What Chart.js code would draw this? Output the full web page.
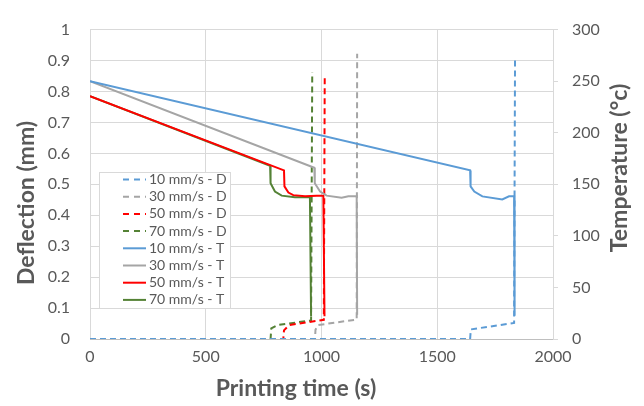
<!DOCTYPE html>
<html><head><meta charset="utf-8">
<script src="https://cdn.jsdelivr.net/npm/chart.js@4"></script>
<style>html,body{margin:0;padding:0;background:#fff}#wrap{width:644px;height:406px;position:relative}</style>
</head><body><div id="wrap"><canvas id="c" width="644" height="406"></canvas></div>
<script>
// ---- data (time in s, deflection in mm, temperature in °C) ----
const xTickValues = [0, 500, 1000, 1500, 2000];
const seriesLabels = ["10 mm/s - D","30 mm/s - D","50 mm/s - D","70 mm/s - D","10 mm/s - T","30 mm/s - T","50 mm/s - T","70 mm/s - T"];

const time10D = [0, 1642, 1645, 1832, 1836];
const defl10D = [0, 0, 0.031, 0.052, 0.91];
const time30D = [0, 972, 974, 985, 1152, 1154];
const defl30D = [0, 0, 0.03, 0.045, 0.063, 0.922];
const time50D = [0, 835, 838, 860, 1010, 1014];
const defl50D = [0, 0, 0.028, 0.045, 0.062, 0.854];
const time70D = [0, 780, 783, 810, 955, 960];
const defl70D = [0, 0, 0.034, 0.045, 0.06, 0.862];

const time10T = [0, 1642, 1644, 1660, 1695, 1781, 1810, 1832, 1834];
const temp10T = [250, 163.5, 148, 143, 138.3, 135.3, 138.3, 138.3, 22.5];
const time30T = [0, 969, 971, 994, 1022, 1087, 1116, 1152, 1154];
const temp30T = [250, 166, 151, 143, 139, 137, 138.3, 138.3, 23.5];
const time50T = [0, 838, 840, 857, 878, 929, 979, 1008, 1013];
const temp50T = [235.5, 163.5, 148, 142, 139.5, 138.3, 139, 139, 22];
const time70T = [0, 778, 780, 799, 828, 885, 950, 955];
const temp70T = [235.5, 168, 151, 143, 139, 137.4, 137.4, 22];

const colors = ["#5B9BD5","#A5A5A5","#FF0000","#548235"];

function pts(tx, vy){ return tx.map((t,i)=>({x:t, y:vy[i]})); }

const dTimes=[time10D,time30D,time50D,time70D], dVals=[defl10D,defl30D,defl50D,defl70D];
const tTimes=[time10T,time30T,time50T,time70T], tVals=[temp10T,temp30T,temp50T,temp70T];

const datasets=[];
for(let i=0;i<4;i++){
  datasets.push({label:seriesLabels[i], data:pts(dTimes[i],dVals[i]), yAxisID:'y', borderColor:colors[i], borderWidth:2, borderDash:[6,4], pointRadius:0, showLine:true, order:1, tension:0});
}
for(let i=0;i<4;i++){
  datasets.push({label:seriesLabels[4+i], data:pts(tTimes[i],tVals[i]), yAxisID:'y2', borderColor:colors[i], borderWidth:2, pointRadius:0, showLine:true, order:0, tension:0});
}

const FONT = "Lato";
const TXT = "#595959";

const overlay = {
  id:'overlay',
  afterDraw(chart){
    const ctx=chart.ctx;
    ctx.save();
    // axis titles
    ctx.fillStyle=TXT;
    ctx.font="bold 23px "+FONT;
    ctx.textAlign="center"; ctx.textBaseline="middle";
    ctx.fillText("Printing time (s)", 296, 389);
    ctx.save(); ctx.translate(27, 203); ctx.rotate(-Math.PI/2);
    ctx.fillText("Deflection (mm)", 0, 0); ctx.restore();
    ctx.save(); ctx.translate(620, 168); ctx.rotate(-Math.PI/2);
    ctx.fillText("Temperature (°c)", 0, 0); ctx.restore();
    // legend
    const lx=99, ly=172, lw=131, lh=136;
    ctx.fillStyle="#fff"; ctx.fillRect(lx,ly,lw,lh);
    ctx.strokeStyle="#d9d9d9"; ctx.lineWidth=1; ctx.strokeRect(lx+0.5,ly+0.5,lw,lh);
    ctx.font="14px "+FONT; ctx.textAlign="left"; ctx.textBaseline="middle";
    chart.data.datasets.forEach((ds,i)=>{
      const y=179.5+i*17.2;
      ctx.strokeStyle=ds.borderColor; ctx.lineWidth=2;
      ctx.setLineDash(ds.borderDash?[6,5]:[]);
      ctx.beginPath(); ctx.moveTo(123,y); ctx.lineTo(146,y); ctx.stroke();
      ctx.setLineDash([]);
      ctx.fillStyle=TXT; ctx.fillText(ds.label,149,y);
    });
    ctx.restore();
  }
};

new Chart(document.getElementById('c'),{
  type:'scatter',
  data:{datasets},
  options:{
    responsive:false, animation:false, devicePixelRatio:1,
    layout:{padding:{top:23,left:0,right:0,bottom:0}},
    plugins:{legend:{display:false}, tooltip:{enabled:false}},
    scales:{
      x:{type:'linear', min:0, max:2000, afterBuildTicks:s=>{s.ticks=xTickValues.map(v=>({value:v}));},
         grid:{color:'#d9d9d9', drawTicks:false}, border:{color:'#bfbfbf'},
         ticks:{color:TXT, font:{family:FONT,size:16}, padding:8, callback:v=>String(v)},
         afterFit:s=>{s.height=67;}},
      y:{min:0, max:1, position:'left', grid:{color:'#d9d9d9', drawTicks:false}, border:{display:false},
         ticks:{stepSize:0.1, color:TXT, font:{family:FONT,size:16}, padding:20, callback:v=>String(Math.round(v*10)/10)},
         afterFit:s=>{s.width=90;}},
      y2:{min:0, max:300, position:'right', grid:{drawOnChartArea:false, color:'#d9d9d9', tickLength:5}, border:{color:'#d9d9d9'},
         ticks:{stepSize:50, color:TXT, font:{family:FONT,size:16}, padding:14, callback:v=>String(v)},
         afterFit:s=>{s.width=91;}}
    }
  },
  plugins:[overlay]
});
</script></body></html>
